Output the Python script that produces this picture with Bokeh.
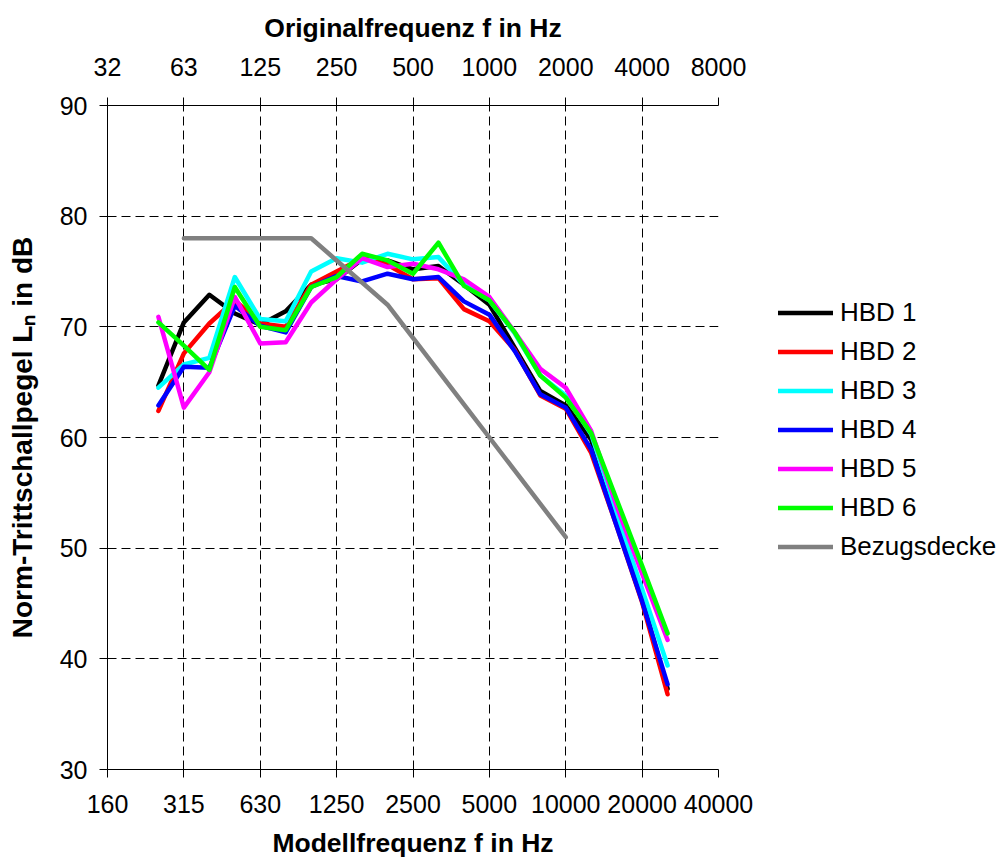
from bokeh.plotting import figure
from bokeh.models import (LinearAxis, FixedTicker, Range1d, Legend, LegendItem)
from bokeh.embed import file_html
from bokeh.resources import INLINE

# Third-octave band axis (model frequency, Hz)
bands_all = [160, 200, 250, 315, 400, 500, 630, 800, 1000, 1250, 1600, 2000,
             2500, 3150, 4000, 5000, 6300, 8000, 10000, 12500, 16000, 20000,
             25000, 31500, 40000]
tick_bands = [160, 315, 630, 1250, 2500, 5000, 10000, 20000, 40000]
tick_labels_model = ["160", "315", "630", "1250", "2500", "5000", "10000", "20000", "40000"]
tick_labels_orig = ["32", "63", "125", "250", "500", "1000", "2000", "4000", "8000"]

# Measured model frequencies
freq_hbd = [250, 315, 400, 500, 630, 800, 1000, 1250, 1600, 2000, 2500, 3150,
            4000, 5000, 6300, 8000, 10000, 12500, 16000, 20000, 25000]
hbd1 = [64.7, 70.4, 72.9, 71.2, 70.2, 71.4, 73.8, 74.3, 76.1, 76.0, 75.2, 75.5,
        73.8, 72.0, 68.1, 64.2, 62.9, 59.8, 52.5, 45.3, 37.3]
hbd2 = [62.4, 67.6, 70.3, 72.4, 70.3, 70.0, 73.8, 75.0, 76.2, 75.6, 74.3, 74.4,
        71.6, 70.5, 67.9, 63.8, 62.6, 58.6, 52.0, 45.1, 36.8]
hbd3 = [64.5, 66.6, 67.2, 74.5, 70.7, 70.5, 75.0, 76.2, 75.8, 76.6, 76.1, 76.3,
        73.8, 72.4, 69.4, 65.6, 63.8, 60.3, 53.1, 46.3, 39.4]
hbd4 = [62.9, 66.4, 66.3, 71.9, 70.1, 69.5, 73.6, 74.6, 74.1, 74.8, 74.3, 74.5,
        72.3, 71.1, 67.8, 63.9, 62.7, 58.9, 52.0, 45.2, 37.7]
hbd5 = [70.9, 62.7, 65.9, 72.7, 68.5, 68.6, 72.2, 74.3, 76.2, 75.4, 75.7, 75.2,
        74.3, 72.7, 69.5, 66.2, 64.5, 60.6, 53.8, 47.7, 41.7]
hbd6 = [70.4, 68.3, 66.1, 73.6, 70.0, 69.7, 73.6, 74.5, 76.6, 76.0, 74.8, 77.6,
        73.7, 72.4, 69.5, 65.6, 63.6, 60.4, 54.4, 48.4, 42.3]

freq_ref = [315, 400, 500, 630, 800, 1000, 1250, 1600, 2000, 2500, 3150, 4000,
            5000, 6300, 8000, 10000]
bezugsdecke = [78, 78, 78, 78, 78, 78, 76, 74, 72, 69, 66, 63, 60, 57, 54, 51]

series_names = ["HBD 1", "HBD 2", "HBD 3", "HBD 4", "HBD 5", "HBD 6", "Bezugsdecke"]
series_colors = ["#000000", "#FF0000", "#00FFFF", "#0000FF", "#FF00FF", "#00FF00", "#808080"]

FONT = "Liberation Sans"

def pos(freqs):
    return [bands_all.index(f) for f in freqs]

tick_pos = pos(tick_bands)

p = figure(frame_width=611, frame_height=664, output_backend="svg", toolbar_location=None,
           x_range=Range1d(0, len(bands_all) - 1), y_range=Range1d(30, 90),
           min_border_left=107, min_border_right=80, min_border_top=105,
           min_border_bottom=89, x_axis_location="below")
p.outline_line_color = None
p.background_fill_color = "white"

# Bottom axis
xa = p.xaxis[0]
xa.ticker = FixedTicker(ticks=tick_pos)
xa.major_label_overrides = {t: l for t, l in zip(tick_pos, tick_labels_model)}
xa.axis_label = "Modellfrequenz f in Hz"

# Top axis
top = LinearAxis(ticker=FixedTicker(ticks=tick_pos),
                 major_label_overrides={t: l for t, l in zip(tick_pos, tick_labels_orig)},
                 axis_label="Originalfrequenz f in Hz")
p.add_layout(top, "above")

ya = p.yaxis[0]
ya.ticker = FixedTicker(ticks=[30, 40, 50, 60, 70, 80, 90])
ya.axis_label = "Norm-Trittschallpegel L\u2099 in dB"

for ax in [xa, top, ya]:
    ax.axis_line_color = "#000000"
    ax.axis_line_width = 1
    ax.major_tick_line_color = "#000000"
    ax.major_tick_in = 0
    ax.major_tick_out = 8
    ax.minor_tick_line_color = None
    ax.major_label_text_font = FONT
    ax.major_label_text_font_size = "25px"
    ax.major_label_text_color = "#000000"
    ax.axis_label_text_font = FONT
    ax.axis_label_text_font_size = "26.5px"
    ax.axis_label_text_font_style = "bold"
    ax.axis_label_text_color = "#000000"

ya.axis_label_text_font_size = "28px"
xa.major_label_standoff = 17
xa.axis_label_standoff = 12
top.major_label_standoff = 22
top.axis_label_standoff = 12
ya.major_label_standoff = 12
ya.axis_label_standoff = 19

for g in [p.xgrid[0], p.ygrid[0]]:
    g.grid_line_color = "#000000"
    g.grid_line_dash = "9 5"
    g.grid_line_width = 1
p.xgrid[0].ticker = FixedTicker(ticks=tick_pos)
p.ygrid[0].ticker = FixedTicker(ticks=[30, 40, 50, 60, 70, 80, 90])

data = [hbd1, hbd2, hbd3, hbd4, hbd5, hbd6]
renderers = []
for vals, c in zip(data, series_colors[:6]):
    r = p.line(pos(freq_hbd), vals, line_color=c, line_width=4.5, line_join="round", line_cap="round")
    renderers.append(r)
r = p.line(pos(freq_ref), bezugsdecke, line_color=series_colors[6], line_width=4.5,
           line_join="round", line_cap="round")
renderers.append(r)

legend = Legend(items=[LegendItem(label=n, renderers=[rr]) for n, rr in zip(series_names, renderers)],
                location=(60, 203), orientation="vertical")
legend.label_text_font = FONT
legend.label_text_font_size = "26px"
legend.label_text_color = "#000000"
legend.glyph_width = 55
legend.glyph_height = 39
legend.label_height = 39
legend.label_standoff = 7
legend.spacing = 0
legend.padding = 0
legend.margin = 0
legend.border_line_color = None
legend.background_fill_alpha = 0
p.add_layout(legend, "right")

open("out.html", "w").write(file_html(p, INLINE))
